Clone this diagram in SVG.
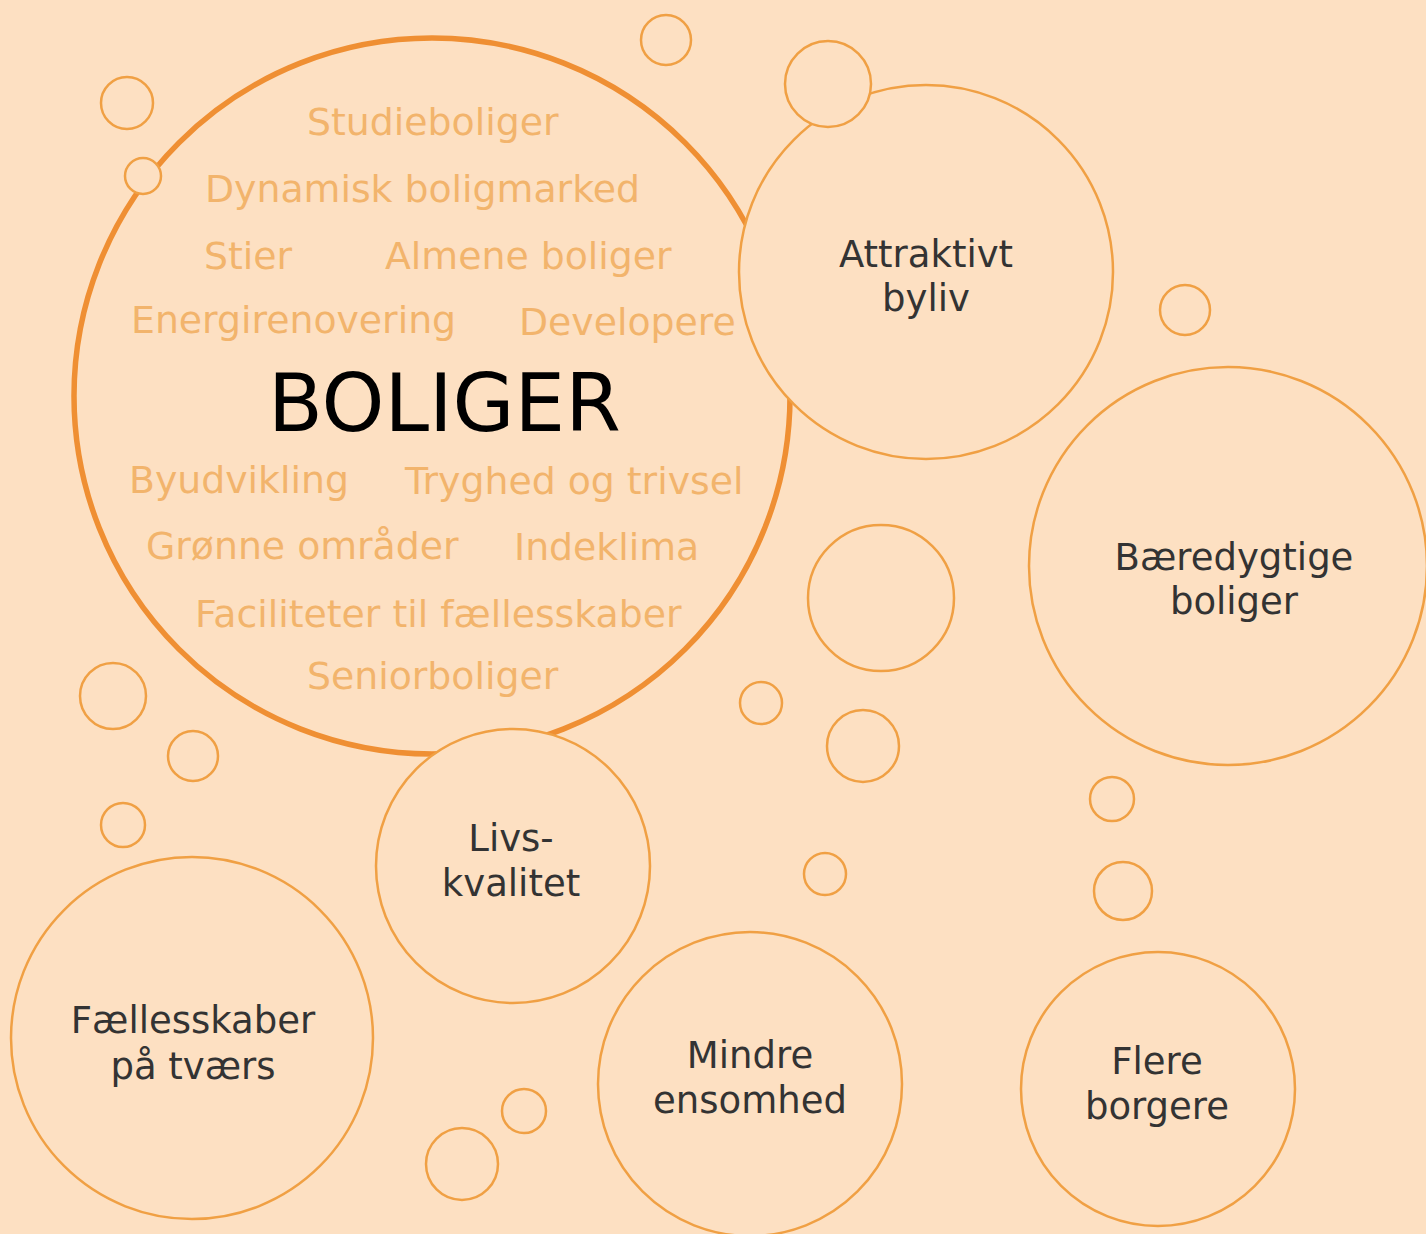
<svg xmlns="http://www.w3.org/2000/svg" width="1426" height="1234" viewBox="0 0 1426 1234">
<style>
.b{fill:#FDE0C2;stroke:#F0A044;stroke-width:2.5}
.big{fill:#FDE0C2;stroke:#EF8F33;stroke-width:5.5}
.t{font-family:"DejaVu Sans",Verdana,sans-serif;font-size:37.8px;fill:#F2B46C}
.n{font-family:"DejaVu Sans",Verdana,sans-serif;font-size:37px;fill:#333333;text-anchor:middle}
.h{font-family:"DejaVu Sans",Verdana,sans-serif;font-size:80px;fill:#000000}
</style>
<rect width="1426" height="1234" fill="#FDE0C2"/>
<g id="boliger">
<circle class="big" cx="432" cy="396" r="358"/>
<text class="t" x="307" y="135">Studieboliger</text>
<text class="t" x="205" y="202">Dynamisk boligmarked</text>
<text class="t" x="204" y="269">Stier</text>
<text class="t" x="385" y="269">Almene boliger</text>
<text class="t" x="131" y="333">Energirenovering</text>
<text class="t" x="519" y="335">Developere</text>
<text class="h" x="268" y="431">BOLIGER</text>
<text class="t" x="129" y="493">Byudvikling</text>
<text class="t" x="405" y="494">Tryghed og trivsel</text>
<text class="t" x="146" y="559">Grønne områder</text>
<text class="t" x="514" y="560">Indeklima</text>
<text class="t" x="195" y="627">Faciliteter til fællesskaber</text>
<text class="t" x="307" y="689">Seniorboliger</text>
</g>
<g id="bubbles">
<circle class="b" cx="666" cy="40" r="25"/>
<circle class="b" cx="127" cy="103" r="26"/>
<circle class="b" cx="143" cy="176" r="18"/>
<circle class="b" cx="1185" cy="310" r="25"/>
<circle class="b" cx="881" cy="598" r="73"/>
<circle class="b" cx="761" cy="703" r="21"/>
<circle class="b" cx="863" cy="746" r="36"/>
<circle class="b" cx="113" cy="696" r="33"/>
<circle class="b" cx="193" cy="756" r="25"/>
<circle class="b" cx="123" cy="825" r="22"/>
<circle class="b" cx="1112" cy="799" r="22"/>
<circle class="b" cx="1123" cy="891" r="29"/>
<circle class="b" cx="825" cy="874" r="21"/>
<circle class="b" cx="524" cy="1111" r="22"/>
<circle class="b" cx="462" cy="1164" r="36"/>
</g>
<g id="attraktivt">
<circle class="b" cx="926" cy="272" r="187"/>
<text class="n" x="926" y="267">Attraktivt</text>
<text class="n" x="926" y="311">byliv</text>
</g>
<g id="bubble-top">
<circle class="b" cx="828" cy="84" r="43"/>
</g>
<g id="baeredygtige">
<circle class="b" cx="1228" cy="566" r="199"/>
<text class="n" x="1234" y="570">Bæredygtige</text>
<text class="n" x="1234" y="614">boliger</text>
</g>
<g id="livskvalitet">
<circle class="b" cx="513" cy="866" r="137"/>
<text class="n" x="511" y="851">Livs-</text>
<text class="n" x="511" y="896">kvalitet</text>
</g>
<g id="faellesskaber">
<circle class="b" cx="192" cy="1038" r="181"/>
<text class="n" x="193" y="1033">Fællesskaber</text>
<text class="n" x="193" y="1079">på tværs</text>
</g>
<g id="ensomhed">
<circle class="b" cx="750" cy="1084" r="152"/>
<text class="n" x="750" y="1068">Mindre</text>
<text class="n" x="750" y="1113">ensomhed</text>
</g>
<g id="borgere">
<circle class="b" cx="1158" cy="1089" r="137"/>
<text class="n" x="1157" y="1074">Flere</text>
<text class="n" x="1157" y="1119">borgere</text>
</g>
<g id="connectors"/>
</svg>
